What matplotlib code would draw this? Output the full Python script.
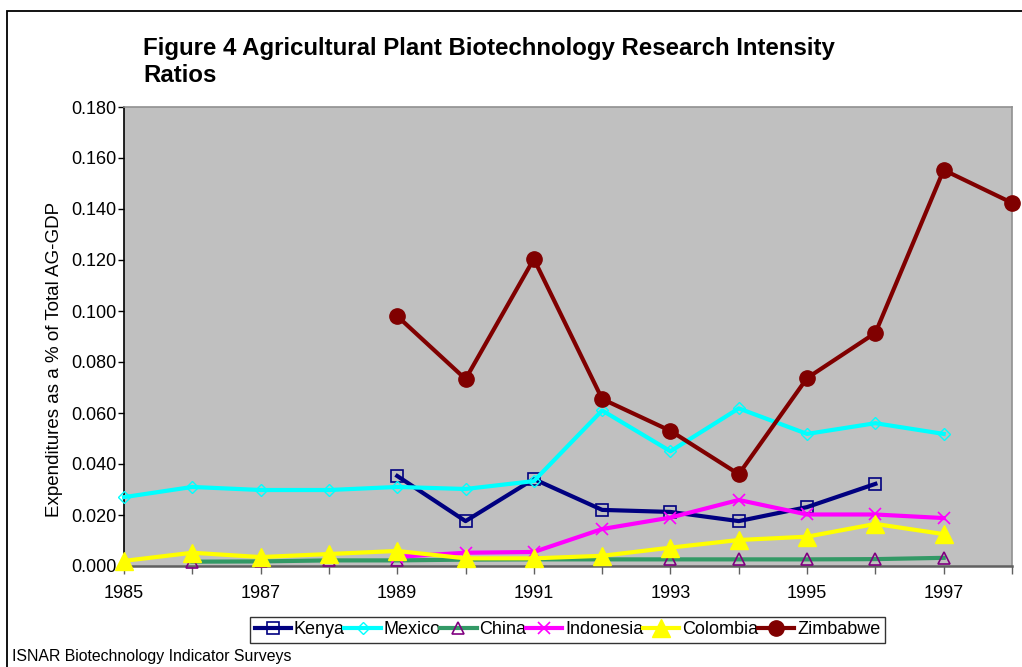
import matplotlib
matplotlib.use("Agg")
import matplotlib.pyplot as plt
from matplotlib.patches import Rectangle

plt.rcParams['font.family'] = ['Liberation Sans', 'DejaVu Sans']

years_kenya = [1989, 1990, 1991, 1992, 1993, 1994, 1995, 1996]
kenya = [0.0353, 0.0176, 0.0341, 0.0220, 0.0212, 0.0176, 0.0231, 0.0322]

years_mexico = list(range(1985, 1998))
mexico = [0.0270, 0.0310, 0.0298, 0.0298, 0.0310, 0.0302, 0.0333, 0.0610, 0.0450, 0.0618, 0.0518, 0.0560, 0.0518]

years_china = list(range(1986, 1998))
china = [0.0017, 0.0018, 0.0022, 0.0022, 0.0025, 0.0026, 0.0026, 0.0026, 0.0026, 0.0026, 0.0027, 0.0032]

years_indonesia = list(range(1989, 1998))
indonesia = [0.0036, 0.0052, 0.0055, 0.0145, 0.0190, 0.0259, 0.0202, 0.0202, 0.0188]

years_colombia = list(range(1985, 1998))
colombia = [0.0020, 0.0052, 0.0035, 0.0047, 0.0059, 0.0030, 0.0030, 0.0040, 0.0072, 0.0102, 0.0115, 0.0165, 0.0125]

years_zimbabwe = list(range(1989, 1999))
zimbabwe = [0.0980, 0.0733, 0.1204, 0.0655, 0.0530, 0.0360, 0.0737, 0.0914, 0.1553, 0.1424]

yticks = [0.0, 0.02, 0.04, 0.06, 0.08, 0.10, 0.12, 0.14, 0.16, 0.18]
xlabels_years = [1985, 1987, 1989, 1991, 1993, 1995, 1997]

fig = plt.figure(figsize=(10.22, 6.67), dpi=100)
ax = fig.add_axes([124/1022, 1-566/667, (1012-124)/1022, (566-107)/667])
ax.set_facecolor('#C0C0C0')

lw = 3.0
ax.plot(years_kenya, kenya, color='#000080', lw=lw, marker='s', ms=8, mfc='none', mec='#000080', mew=1.2, clip_on=False, zorder=3, label='Kenya')
ax.plot(years_mexico, mexico, color='#00FFFF', lw=lw, marker='D', ms=6.5, mfc='none', mec='#00FFFF', mew=1.0, clip_on=False, zorder=3, label='Mexico')
ax.plot(years_china, china, color='#339966', lw=lw, marker='^', ms=8, mfc='none', mec='#800080', mew=1.2, clip_on=False, zorder=3, label='China')
ax.plot(years_indonesia, indonesia, color='#FF00FF', lw=lw, marker='x', ms=9, mec='#FF00FF', mew=1.2, clip_on=False, zorder=3, label='Indonesia')
ax.plot(years_colombia, colombia, color='#FFFF00', lw=lw, marker='^', ms=13, mfc='#FFFF00', mec='#FFFF00', clip_on=False, zorder=4, label='Colombia')
ax.plot(years_zimbabwe, zimbabwe, color='#800000', lw=lw, marker='o', ms=11, mfc='#800000', mec='#800000', clip_on=False, zorder=5, label='Zimbabwe')

ax.set_xlim(1985, 1998)
ax.set_ylim(0, 0.18)
ax.set_yticks(yticks)
ax.set_yticklabels([f"{v:.3f}" for v in yticks], fontsize=13)
ax.set_xticks(list(range(1985, 1999)))
ax.set_xticklabels([str(y) if y in xlabels_years else '' for y in range(1985, 1999)], fontsize=13)
ax.tick_params(axis='x', direction='out', length=6, width=1, color='#606060', pad=8)
ax.tick_params(axis='y', direction='out', length=4, width=1, color='black', pad=1.5)

for s in ['top', 'right']:
    ax.spines[s].set_color('#909090')
    ax.spines[s].set_linewidth(1.2)
ax.spines['left'].set_color('black')
ax.spines['left'].set_linewidth(1.2)
ax.spines['bottom'].set_color('#606060')
ax.spines['bottom'].set_linewidth(1.8)

ax.set_ylabel('Expenditures as a % of Total AG-GDP', fontsize=13.5)
ax.yaxis.set_label_coords((63-124)/888, (566-359)/459)

fig.text(143/1022, 1-55/667, 'Figure 4 Agricultural Plant Biotechnology Research Intensity',
         fontsize=17.3, fontweight='bold', va='baseline', ha='left')
fig.text(143/1022, 1-82/667, 'Ratios',
         fontsize=17.3, fontweight='bold', va='baseline', ha='left')

fig.text(12/1022, 1-656/667, 'ISNAR Biotechnology Indicator Surveys', fontsize=11.4, va='center', ha='left')

leg = fig.legend(loc='center', bbox_to_anchor=((247+888)/2/1022, 1-630/667), ncol=6, fontsize=13,
                 frameon=True, fancybox=False, edgecolor='black', handlelength=2.0, handletextpad=0.15,
                 columnspacing=0.0, borderpad=0.25, borderaxespad=0)
leg.get_frame().set_linewidth(1.0)

# outer border
fig.patches.append(Rectangle((7/1022, -0.05), 1.1, 1-11/667+0.05, transform=fig.transFigure,
                             fill=False, edgecolor='black', lw=1.3))

fig.savefig('out.png', dpi=100)
